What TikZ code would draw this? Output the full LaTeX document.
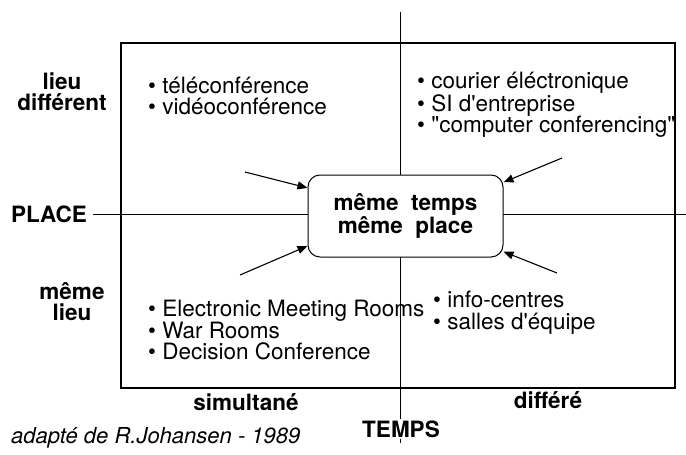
\documentclass[tikz,border=0pt]{standalone}
\usepackage{fontspec}
\newfontfamily\hv{TeX Gyre Heros}
\usetikzlibrary{arrows.meta}
\begin{document}
\begin{tikzpicture}[x=1pt,y=-1pt,
  lbl/.style={font=\hv\bfseries\fontsize{22.5}{21}\selectfont, inner sep=0pt, align=center},
  items/.style={font=\hv\fontsize{22.5}{21.7}\selectfont, inner sep=0pt, align=left, anchor=west},
  axis/.style={line width=1pt},
  push/.style={line width=1.1pt, -{Triangle[length=10pt,width=8pt]}},
  core/.style={draw, fill=white, line width=1pt, rounded corners=12pt,
    minimum width=195pt, minimum height=82pt, inner sep=0pt, align=center,
    font=\hv\bfseries\fontsize{22.5}{21.5}\selectfont},
]
\useasboundingbox (0,0) rectangle (686,455);

% axes
\coordinate (vtop) at (400,12);
\coordinate (vbot) at (400,443);
\coordinate (hleft) at (93,214);
\coordinate (hright) at (686,214);
\draw[axis] (vtop) -- (vbot);
\draw[axis] (hleft) -- (hright);

% frame of the four quadrants
\draw[line width=1.2pt] (121,43) rectangle (675,388);

% centre box
\node[core] (ctr) at (405.5,216) {même\ \ temps\\même\ \ place};

% quadrant contents
\node[items] (tl) at (148,96) {• téléconférence\\• vidéoconférence};
\node[items] (tr) at (417,105) {• courier éléctronique\\• SI d'entreprise\\• "computer conferencing"};
\node[items] (bl) at (148,330) {• Electronic Meeting Rooms\\• War Rooms\\• Decision Conference};
\node[items] (br) at (433,313) {• info-centres\\• salles d'équipe};

% arrows toward the centre
\coordinate (a1) at (245,172);
\coordinate (a2) at (562,158);
\coordinate (a3) at (240,275);
\coordinate (a4) at (557,273);
\draw[push] (a1) -- (ctr.164);
\draw[push] (a2) -- (ctr.19);
\draw[push] (a3) -- (ctr.197);
\draw[push] (a4) -- (ctr.-20);

% axis labels
\node[lbl] (ld) at (62,92) {lieu\\différent};
\node[lbl] (ml) at (72,302) {même\\lieu};
\node[lbl] (place) at (49,214) {PLACE};
\node[lbl] (sim) at (246,402) {simultané};
\node[lbl] (dif) at (548,400) {différé};
\node[lbl, fill=white, inner ysep=2pt] (temps) at (401,429) {TEMPS};
\node[font=\hv\itshape\fontsize{22}{22}\selectfont, inner sep=0pt, anchor=west] (src) at (11,438) {adapté de R.Johansen - 1989};
\end{tikzpicture}
\end{document}
